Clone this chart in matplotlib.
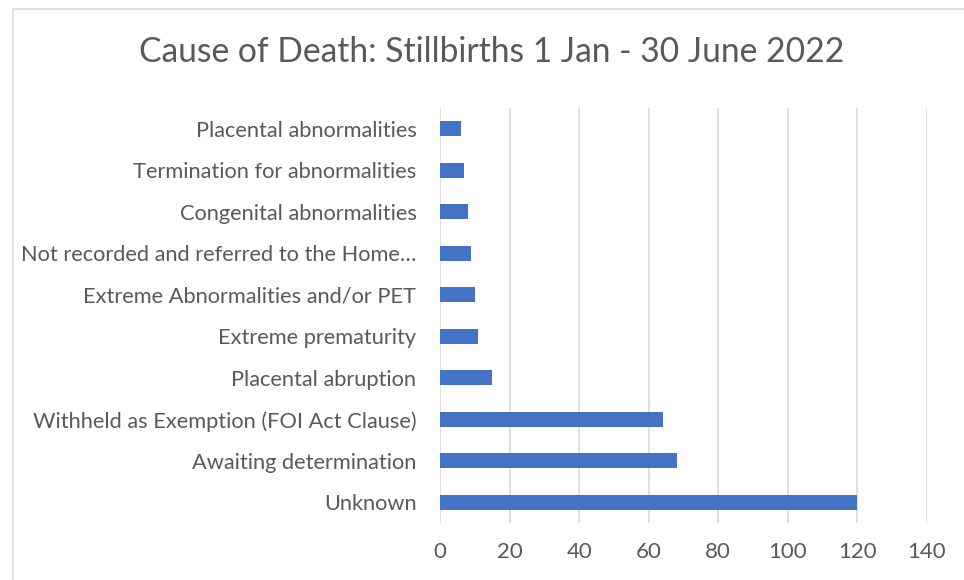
import matplotlib.pyplot as plt
from matplotlib.patches import Rectangle

causes = [
    "Unknown",
    "Awaiting determination",
    "Withheld as Exemption (FOI Act Clause)",
    "Placental abruption",
    "Extreme prematurity",
    "Extreme Abnormalities and/or PET",
    "Not recorded and referred to the Home\u2026",
    "Congenital abnormalities",
    "Termination for abnormalities",
    "Placental abnormalities",
]
counts = [120, 68, 64, 15, 11, 10, 9, 8, 7, 6]
xticks = [0, 20, 40, 60, 80, 100, 120, 140]

plt.rcParams['font.family'] = ['Lato', 'DejaVu Sans']
text_col = '#595959'

fig = plt.figure(figsize=(9.64, 5.8), dpi=100)
# chart border (cropped at right and bottom like the reference)
fig.patches.append(Rectangle((13 / 964, -0.1), 1.2, 1 - 9 / 580 + 0.1,
                             transform=fig.transFigure, fill=False,
                             edgecolor='#D9D9D9', linewidth=1.2))

ax = fig.add_axes([440 / 964, 1 - 523 / 580, (927 - 440) / 964, (523 - 108) / 580])
ax.barh(range(len(causes)), counts, height=0.35, color='#4472C4')
ax.set_xlim(0, 140)
ax.set_ylim(-0.5, len(causes) - 0.5)
ax.set_xticks(xticks)
ax.set_yticks(range(len(causes)))
ax.set_yticklabels(causes)
ax.grid(axis='x', color='#D9D9D9', linewidth=1.2)
ax.set_axisbelow(True)
for s in ax.spines.values():
    s.set_visible(False)
ax.tick_params(axis='both', length=0, labelcolor=text_col)
ax.tick_params(axis='y', pad=17, labelsize=15.7)
ax.tick_params(axis='x', pad=14, labelsize=16)

fig.text(492 / 964, 1 - 52 / 580, "Cause of Death: Stillbirths 1 Jan - 30 June 2022",
         ha='center', va='center', fontsize=24.2, color=text_col)

plt.savefig("out.png", dpi=100)
